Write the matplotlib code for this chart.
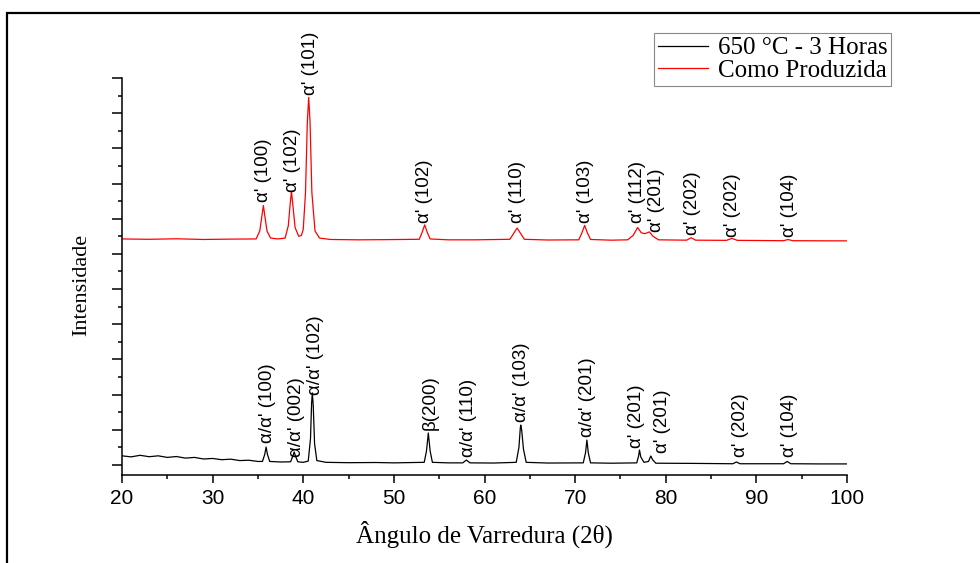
import matplotlib

matplotlib.use("Agg")

import matplotlib.pyplot as plt
from matplotlib.patches import Rectangle
from matplotlib.ticker import MultipleLocator

SANS = "Liberation Sans"
SERIF = "Liberation Serif"

# 650 °C - 3 Horas (black)
black_x = [20, 21, 22, 23, 24, 25, 26, 27, 28, 29, 30, 31, 32, 33, 34, 35,
           35.5, 35.75, 35.9, 36.05, 36.3, 37.5,
           38.6, 38.85, 39.0, 39.15, 39.4, 40.0,
           40.55, 40.8, 40.92, 41.0, 41.1, 41.25, 41.5, 42.5, 45, 48, 50,
           53.35, 53.6, 53.8, 54.0, 54.25, 56,
           57.6, 58.0, 58.4, 61,
           63.5, 63.8, 63.95, 64.0, 64.1, 64.3, 64.6, 67,
           70.9, 71.15, 71.3, 71.45, 71.7, 74,
           76.8, 77.0, 77.1, 77.25, 77.6, 78.1, 78.35, 78.55, 78.9, 83,
           87.4, 87.8, 88.2, 91,
           93.0, 93.4, 93.8, 97, 100]
black_y = [0.52, 0.46, 0.55, 0.47, 0.52, 0.43, 0.48, 0.39, 0.43, 0.34, 0.37, 0.30, 0.33, 0.25, 0.27, 0.20,
           0.20, 0.60, 1.02, 0.60, 0.20, 0.17,
           0.18, 0.50, 0.74, 0.50, 0.18, 0.15,
           0.22, 1.50, 3.50, 4.10, 3.40, 1.20, 0.25, 0.15, 0.13, 0.14, 0.12,
           0.15, 0.80, 1.82, 0.80, 0.15, 0.12,
           0.12, 0.28, 0.12, 0.11,
           0.15, 1.00, 2.10, 2.27, 2.00, 0.90, 0.15, 0.11,
           0.12, 0.70, 1.42, 0.70, 0.12, 0.10,
           0.12, 0.50, 0.85, 0.45, 0.15, 0.20, 0.51, 0.30, 0.10, 0.09,
           0.07, 0.17, 0.07, 0.07,
           0.07, 0.20, 0.07, 0.06, 0.06]

# Como Produzida (red)
red_x = [20, 23, 26, 29, 32,
         34.8, 35.2, 35.45, 35.6, 35.75, 36.0, 36.4, 37.2,
         38.0, 38.35, 38.55, 38.7, 38.85, 39.1, 39.5, 39.8,
         40.0, 40.25, 40.45, 40.6, 40.75, 40.95, 41.3, 41.8, 43, 46, 49,
         52.8, 53.1, 53.4, 53.7, 54.0, 56, 59,
         62.8, 63.2, 63.6, 64.0, 64.4, 67,
         70.4, 70.75, 71.05, 71.35, 71.7, 74,
         75.8, 76.4, 76.9, 77.3, 77.7, 78.2, 78.6, 79.2,
         82.3, 82.8, 83.3, 86.7, 87.3, 87.9, 93.0, 93.5, 94.0, 100]
red_y = [12.85, 12.83, 12.86, 12.82, 12.84,
         12.85, 13.30, 14.20, 14.75, 14.20, 13.30, 12.90, 12.85,
         12.90, 13.60, 14.80, 15.55, 14.80, 13.50, 13.00, 13.05,
         13.40, 15.50, 19.50, 20.90, 19.50, 15.50, 13.30, 12.90, 12.82, 12.80, 12.81,
         12.83, 13.20, 13.65, 13.20, 12.85, 12.80, 12.80,
         12.83, 13.15, 13.47, 13.15, 12.83, 12.79,
         12.80, 13.20, 13.62, 13.20, 12.82, 12.78,
         12.80, 13.05, 13.50, 13.20, 13.15, 13.25, 13.00, 12.80,
         12.78, 12.92, 12.78, 12.77, 12.88, 12.77, 12.75, 12.82, 12.75, 12.74]

black_label_x = [36.0, 39.2, 41.3, 54.0, 58.2, 64.1, 71.4, 76.8, 79.6, 88.2, 93.7]
black_label_y = [1.25, 0.45, 3.98, 1.99, 0.45, 2.44, 1.59, 0.97, 0.68, 0.45, 0.45]
black_labels = ["α/α' (100)", "α/α' (002)", "α/α' (102)", "β(200)", "α/α' (110)",
                "α/α' (103)", "α/α' (201)", "α' (201)", "α' (201)", "α' (202)", "α' (104)"]

red_label_x = [35.6, 38.85, 40.75, 53.4, 63.66, 71.1, 76.9, 79.0, 82.9, 87.4, 93.6]
red_label_y = [14.94, 15.52, 21.03, 13.76, 13.76, 13.76, 13.76, 13.25, 13.08, 12.96, 12.96]
red_labels = ["α' (100)", "α' (102)", "α' (101)", "α' (102)", "α' (110)", "α' (103)",
              "α' (112)", "α' (201)", "α' (202)", "α' (202)", "α' (104)"]

fig = plt.figure(figsize=(9.8, 5.63), dpi=100)
ax = fig.add_axes([122 / 980, 1 - 475 / 563, 725 / 980, 397 / 563])

ax.plot(black_x, black_y, color="black", lw=0.9, label="650 °C - 3 Horas")
ax.plot(red_x, red_y, color="red", lw=0.9, label="Como Produzida")

for x, y, s in zip(black_label_x, black_label_y, black_labels):
    ax.text(x, y, s, rotation=90, ha="center", va="bottom", fontsize=13.5,
            family=SANS, clip_on=False)
for x, y, s in zip(red_label_x, red_label_y, red_labels):
    ax.text(x, y, s, rotation=90, ha="center", va="bottom", fontsize=13.5,
            family=SANS, clip_on=False)

ax.set_xlim(20, 100)
ax.set_ylim(-0.57, 22)
ax.xaxis.set_major_locator(MultipleLocator(10))
ax.xaxis.set_minor_locator(MultipleLocator(5))
ax.yaxis.set_major_locator(MultipleLocator(2))
ax.yaxis.set_minor_locator(MultipleLocator(1))
ax.set_yticklabels([])
for side in ("top", "right"):
    ax.spines[side].set_visible(False)
for side in ("left", "bottom"):
    ax.spines[side].set_linewidth(1.1)
ax.tick_params(axis="both", which="major", direction="out", width=1.1)
ax.tick_params(axis="x", which="major", length=6, pad=4)
ax.tick_params(axis="x", which="minor", length=3, width=1.1)
ax.tick_params(axis="y", which="major", length=7.5)
ax.tick_params(axis="y", which="minor", length=3, width=1.1)
for lab in ax.get_xticklabels():
    lab.set_family(SANS)
    lab.set_fontsize(15)

ax.set_xlabel("Ângulo de Varredura (2θ)", family=SERIF, fontsize=18)
ax.xaxis.set_label_coords(0.5, -0.115)
ax.set_ylabel("Intensidade", family=SERIF, fontsize=16)
ax.yaxis.set_label_coords(-0.043, 0.48)

leg = ax.legend(loc="upper left", bbox_to_anchor=(654 / 980, 1 - 33 / 563),
                bbox_transform=fig.transFigure, borderaxespad=0,
                prop={"family": SERIF, "size": 18}, frameon=True, fancybox=False,
                edgecolor="#888888", framealpha=1, handlelength=2.0,
                handletextpad=0.4, labelspacing=0.0, borderpad=0.15)
leg.get_frame().set_linewidth(0.8)

fig.add_artist(Rectangle((7 / 980, -0.2), 1.2, 1.2 - 13 / 563, transform=fig.transFigure,
                         fill=False, lw=1.6, edgecolor="black", clip_on=False))

fig.savefig("out.png", dpi=100)
